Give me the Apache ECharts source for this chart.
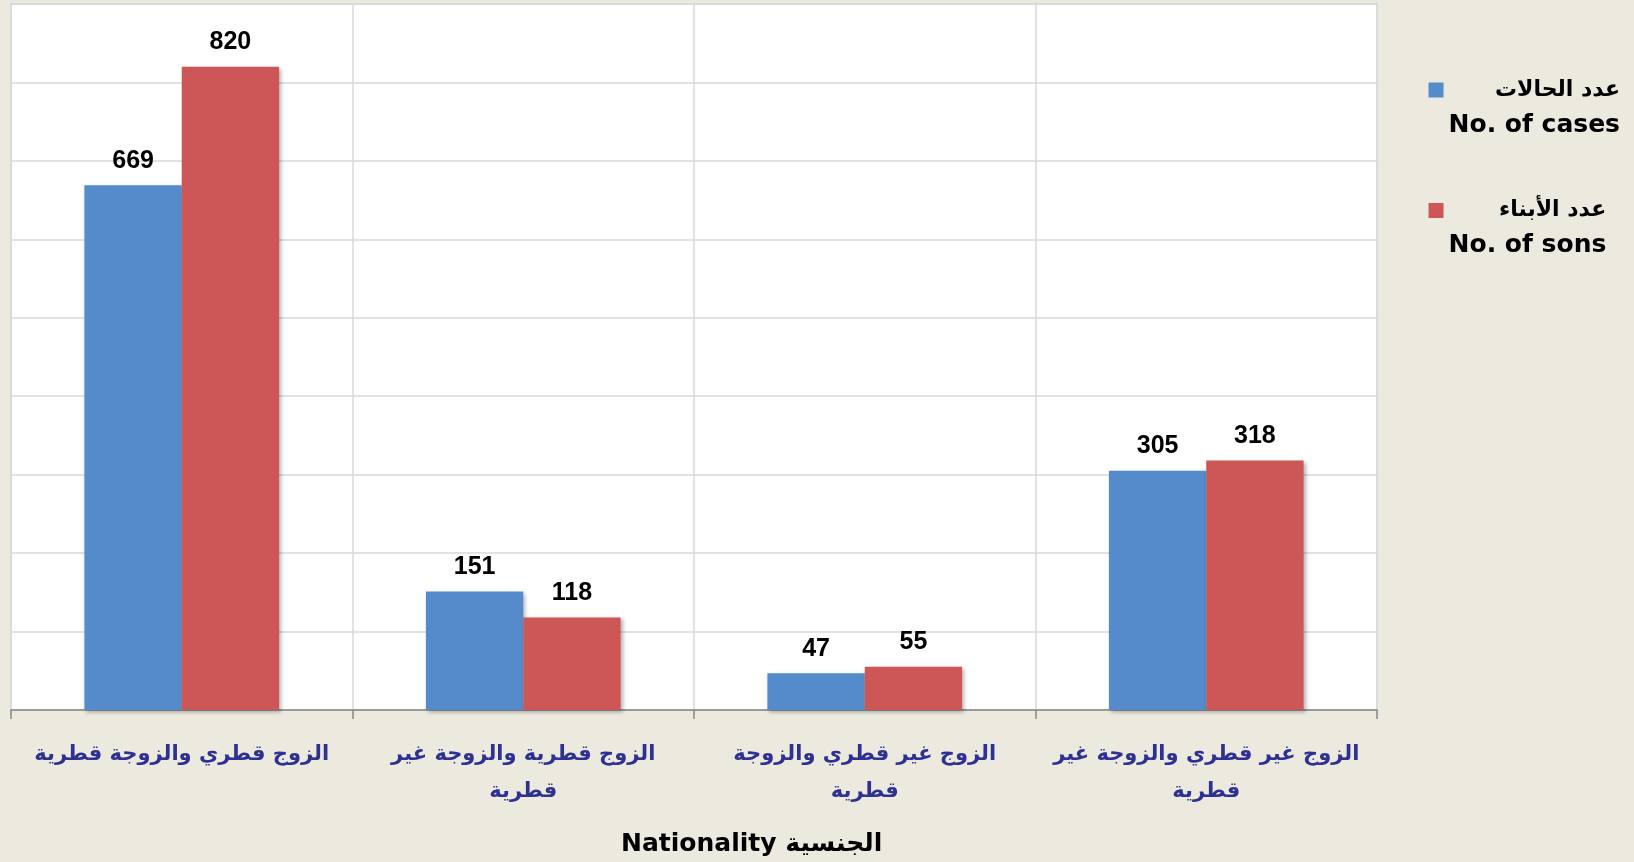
<!DOCTYPE html>
<html>
<head>
<meta charset="utf-8">
<script src="https://cdn.jsdelivr.net/npm/echarts@6/dist/echarts.min.js"></script>
<style>
  html, body { margin: 0; padding: 0; background: #ece9df; }
  #chart { width: 1634px; height: 862px; }
</style>
</head>
<body>
<div id="chart"></div>
<script>
const categories = [
  'الزوج قطري والزوجة قطرية',
  'الزوج قطرية والزوجة غير\nقطرية',
  'الزوج غير قطري والزوجة\nقطرية',
  'الزوج غير قطري والزوجة غير\nقطرية'
]
const seriesNames = ['عدد الحالات', 'عدد الأبناء']
const seriesNamesEn = ['No. of cases', 'No. of sons']
const cases = [669, 151, 47, 305]
const sons = [820, 118, 55, 318]
const axisTitle = 'Nationality الجنسية'

const chart = echarts.init(document.getElementById('chart'))

const barLabel = {
  show: true,
  position: 'top',
  distance: 12,
  color: '#000',
  fontFamily: '"Liberation Sans", Arial, sans-serif',
  fontWeight: 'bold',
  fontSize: 25
}
const barShadow = { shadowColor: 'rgba(0,0,0,0.3)', shadowBlur: 4, shadowOffsetX: 2, shadowOffsetY: 2 }

chart.setOption({
  animation: false,
  backgroundColor: '#ece9df',
  title: {
    text: axisTitle,
    left: 616,
    top: 827,
    textStyle: { fontFamily: '"DejaVu Sans"', fontWeight: 'bold', fontSize: 25, color: '#000' }
  },
  legend: {
    orient: 'vertical',
    right: 9,
    top: 45,
    itemWidth: 15,
    itemHeight: 15,
    itemGap: 33,
    icon: 'rect',
    data: seriesNames,
    formatter: (name) => {
      const en = seriesNamesEn[seriesNames.indexOf(name)]
      return '{s| }\n{ar|' + name + '}\n{en|' + en + '}'
    },
    textStyle: {
      color: '#000',
      rich: {
        s: { lineHeight: 35, fontSize: 10 },
        ar: { align: 'right', lineHeight: 35, fontFamily: '"DejaVu Sans"', fontWeight: 'bold', fontSize: 22, color: '#000' },
        en: { align: 'right', lineHeight: 35, fontFamily: '"DejaVu Sans"', fontWeight: 'bold', fontSize: 25, color: '#000' }
      }
    }
  },
  grid: {
    left: 11,
    right: 257,
    top: 4,
    bottom: 152,
    show: true,
    backgroundColor: '#fff',
    borderColor: '#d9d9d9',
    borderWidth: 1.5
  },
  xAxis: {
    type: 'category',
    data: categories,
    axisLine: { lineStyle: { color: '#868686', width: 1.5 } },
    axisTick: { show: true, length: 9, lineStyle: { color: '#868686', width: 1.5 } },
    splitLine: { show: true, lineStyle: { color: '#d9d9d9', width: 1.5 } },
    axisLabel: {
      interval: 0,
      margin: 26,
      lineHeight: 37,
      color: '#2e3192',
      fontFamily: '"DejaVu Sans"',
      fontWeight: 'bold',
      fontSize: 21
    }
  },
  yAxis: {
    type: 'value',
    min: 0,
    max: 900,
    interval: 100,
    axisLabel: { show: false },
    axisLine: { show: false },
    axisTick: { show: false },
    splitLine: { lineStyle: { color: '#d9d9d9', width: 1.5 } }
  },
  series: [
    {
      name: seriesNames[0],
      type: 'bar',
      data: cases,
      barGap: 0,
      barCategoryGap: '43%',
      itemStyle: Object.assign({ color: '#558acb' }, barShadow),
      label: barLabel
    },
    {
      name: seriesNames[1],
      type: 'bar',
      data: sons,
      itemStyle: Object.assign({ color: '#cd5756' }, barShadow),
      label: barLabel
    }
  ]
})
</script>
</body>
</html>
